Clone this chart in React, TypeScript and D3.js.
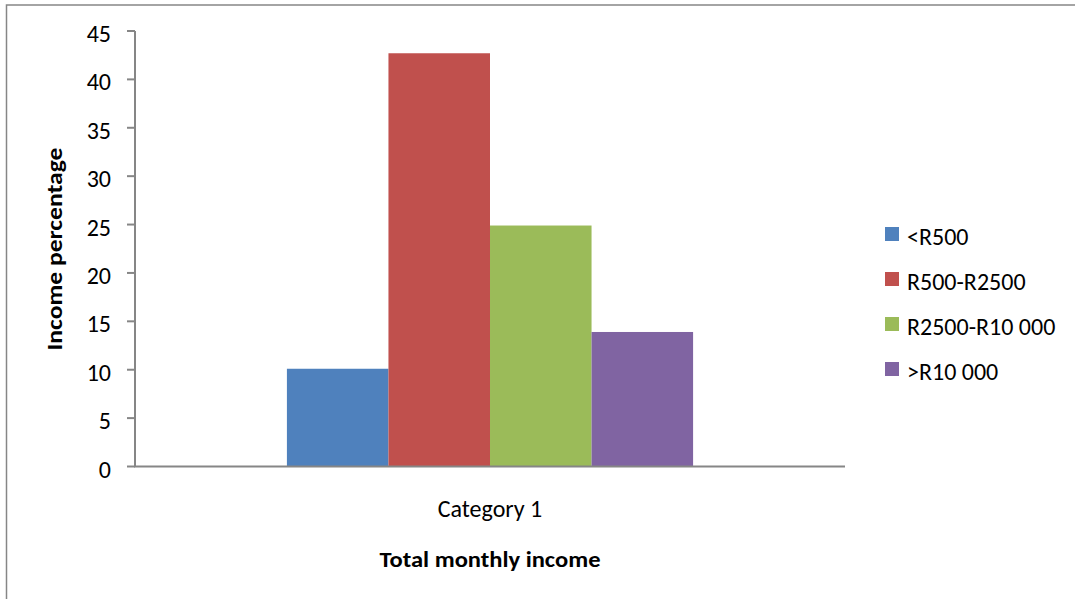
import React from "react";
import * as d3 from "d3";

const categories = ["Category 1"];
const seriesNames = ["<R500", "R500-R2500", "R2500-R10 000", ">R10 000"];
const seriesValues = [10.1, 42.7, 24.9, 13.9];
const seriesColors = ["#4F81BD", "#C0504D", "#9BBB59", "#8064A2"];
const yTicks = [0, 5, 10, 15, 20, 25, 30, 35, 40, 45];
const yTitle = "Income percentage";
const xTitle = "Total monthly income";

const W = 1075;
const H = 599;
const FONT = "Carlito, Calibri, 'Open Sans', 'Noto Sans', sans-serif";
const AXIS = "#868686";

export default function App() {
  const x0 = d3.scaleBand<string>().domain(categories).range([135, 845]).paddingInner(0).paddingOuter(0.374);
  const x1 = d3.scaleBand<string>().domain(seriesNames).range([0, x0.bandwidth()]).padding(0);
  const y = d3.scaleLinear().domain([0, 45]).range([466.5, 31]);

  return (
    <svg width={W} height={H} style={{ position: "absolute", left: 0, top: 0, display: "block" }} fontFamily={FONT}>
      <rect x={0} y={0} width={W} height={H} fill="#fff" />
      <rect x={6.5} y={5} width={W + 10} height={H + 10} fill="none" stroke={AXIS} strokeWidth={1.5} />

      {categories.map((c) => (
        <g key={c}>
          {seriesNames.map((s, i) => {
            const v = seriesValues[i];
            return (
              <rect
                key={s}
                x={(x0(c) ?? 0) + (x1(s) ?? 0)}
                y={y(v)}
                width={x1.bandwidth()}
                height={y(0) - y(v)}
                fill={seriesColors[i]}
              />
            );
          })}
          <text x={(x0(c) ?? 0) + x0.bandwidth() / 2} y={517} textAnchor="middle" fontSize={24} fill="#000">
            {c}
          </text>
        </g>
      ))}

      {/* y axis */}
      <line x1={135} x2={135} y1={y(45)} y2={y(0)} stroke={AXIS} strokeWidth={2} />
      {yTicks.map((t) => (
        <g key={t}>
          <line x1={127} x2={135} y1={y(t)} y2={y(t)} stroke={AXIS} strokeWidth={2} />
          <text x={111} y={y(t) + 11} textAnchor="end" fontSize={24} fill="#000">
            {t}
          </text>
        </g>
      ))}
      {/* x axis */}
      <line x1={134} x2={845} y1={y(0)} y2={y(0)} stroke={AXIS} strokeWidth={2} />

      {/* axis titles */}
      <text
        transform={`translate(62, 249) rotate(-90)`}
        textAnchor="middle"
        fontSize={22}
        fontWeight="bold"
        fill="#000"
        textLength={203}
        lengthAdjust="spacingAndGlyphs"
      >
        {yTitle}
      </text>
      <text x={490} y={567} textAnchor="middle" fontSize={22} fontWeight="bold" fill="#000" textLength={221} lengthAdjust="spacingAndGlyphs">
        {xTitle}
      </text>

      {/* legend */}
      {seriesNames.map((s, i) => (
        <g key={s} transform={`translate(885, ${227 + i * 45})`}>
          <rect x={0} y={0} width={14} height={14} fill={seriesColors[i]} />
          <text x={22} y={18} fontSize={24} fill="#000">
            {s}
          </text>
        </g>
      ))}
    </svg>
  );
}
